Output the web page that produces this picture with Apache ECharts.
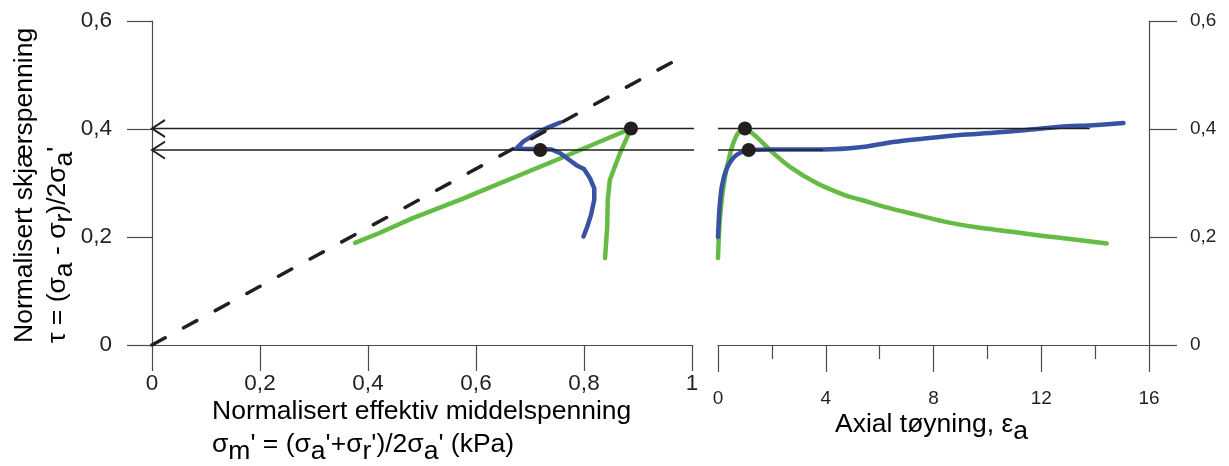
<!DOCTYPE html>
<html>
<head>
<meta charset="utf-8">
<script src="https://cdn.jsdelivr.net/npm/echarts@6/dist/echarts.min.js"></script>
<style>
  html, body { margin: 0; padding: 0; background: #ffffff; }
  #chart { width: 1229px; height: 466px; }
</style>
</head>
<body>
<div id="chart"></div>
<script>
// Undrained triaxial test: stress paths (left) and stress–strain curves (right)

// Axis ranges / tick steps
const stressRange = [0, 1];      // normalised mean effective stress
const stressStep = 0.2;
const tauRange = [0, 0.6];       // normalised shear stress
const tauStep = 0.2;
const strainRange = [0, 16];     // axial strain
const strainStep = 4;

// Stress paths [σm', τ]
const bluePath = [
  [0.799, 0.201], [0.806, 0.219], [0.813, 0.241], [0.819, 0.269], [0.819, 0.290],
  [0.811, 0.309], [0.800, 0.326], [0.786, 0.333], [0.771, 0.344], [0.756, 0.355],
  [0.740, 0.362], [0.719, 0.363], [0.694, 0.363], [0.675, 0.364], [0.688, 0.377],
  [0.712, 0.392], [0.734, 0.403], [0.756, 0.412]
];
const greenPath = [
  [0.839, 0.161], [0.843, 0.219], [0.844, 0.269], [0.848, 0.306], [0.857, 0.330],
  [0.867, 0.356], [0.880, 0.385], [0.887, 0.401], [0.750, 0.343], [0.607, 0.284],
  [0.576, 0.271], [0.483, 0.235], [0.420, 0.207], [0.376, 0.189]
];

// Failure envelope [σm', τ]
const failureLine = [[0, 0], [0.975, 0.530]];

// Stress–strain curves [εa, τ]
const blueStrain = [
  [0, 0.200], [0.05, 0.250], [0.14, 0.293], [0.30, 0.324], [0.51, 0.343],
  [0.75, 0.354], [1.14, 0.361], [2.05, 0.362], [3.90, 0.362], [5.27, 0.366],
  [6.50, 0.376], [7.75, 0.383], [8.98, 0.389], [10.2, 0.393], [11.46, 0.398],
  [12.7, 0.404], [13.93, 0.407], [15.05, 0.411]
];
const greenStrain = [
  [0, 0.161], [0.05, 0.219], [0.14, 0.269], [0.26, 0.311], [0.42, 0.348],
  [0.57, 0.374], [0.75, 0.393], [1.00, 0.401], [1.44, 0.385], [1.93, 0.361],
  [2.67, 0.330], [3.66, 0.300], [4.78, 0.276], [5.30, 0.269], [6.26, 0.255],
  [7.13, 0.244], [8.36, 0.229], [9.60, 0.218], [10.84, 0.210], [12.07, 0.202],
  [13.3, 0.195], [14.43, 0.188]
];

// Peak / plateau markers: green peak and blue plateau
const markTau = [0.401, 0.361];
const markStress = [0.887, 0.719];
const markStrain = [1.00, 1.14];
// Reference levels carried back to the τ axis, ending at these strains
const guideEndStrain = [13.8, 3.9];
// Left part of the guide runs just past σm' = 1 to bridge the gap between panels
const guideBridge = 1.05;

const INK = '#231f20';
const AXIS = '#4a4a4a';
const GREEN = '#66bb44';
const BLUE = '#3953a4';
const FONT = '"Liberation Sans", Arial, sans-serif';

const comma = v => String(+(+v).toFixed(2)).replace('.', ',');

const chevron = 'path://M13,0 L0,8.5 L13,17';

function guideSeries(tau, end) {
  return [
    {
      type: 'line', xAxisIndex: 0, yAxisIndex: 0, clip: false, silent: true, z: 4,
      lineStyle: { color: INK, width: 1.6 },
      itemStyle: { color: 'none', borderColor: INK, borderWidth: 1.8 },
      data: [
        { value: [stressRange[0], tau], symbol: chevron, symbolSize: [13, 17], symbolOffset: ['50%', 0] },
        { value: [guideBridge, tau], symbol: 'none' }
      ]
    },
    {
      type: 'line', xAxisIndex: 1, yAxisIndex: 1, clip: false, silent: true, z: 4,
      symbol: 'none',
      lineStyle: { color: INK, width: 1.6 },
      data: [[strainRange[0], tau], [end, tau]]
    }
  ];
}

const curve = (color, data, xi, smooth) => ({
  type: 'line', xAxisIndex: xi, yAxisIndex: xi, data, symbol: 'none', smooth,
  silent: true, z: 2,
  lineStyle: { color, width: 4.5, cap: 'round', join: 'round' }
});

const tickLabel = (size) => ({ fontFamily: FONT, fontSize: size, color: INK });

const rich = {
  n: { fontFamily: FONT, fontSize: 26.5, color: INK },
  s: { fontFamily: FONT, fontSize: 26.5, color: INK, padding: [13, 0, 0, 0] }
};

const chart = echarts.init(document.getElementById('chart'), null, { renderer: 'canvas' });

chart.setOption({
  animation: false,
  backgroundColor: '#ffffff',
  grid: [
    { left: 152, top: 21, width: 540, height: 324 },
    { left: 718, top: 21, width: 431, height: 324 }
  ],
  xAxis: [
    {
      gridIndex: 0, type: 'value', min: stressRange[0], max: stressRange[1], interval: stressStep,
      axisLine: { show: true, onZero: false, lineStyle: { color: AXIS, width: 1.2 } },
      axisTick: { show: true, length: 26, lineStyle: { color: AXIS, width: 1.2 } },
      splitLine: { show: false },
      axisLabel: Object.assign({ margin: 27, formatter: comma }, tickLabel(22.5))
    },
    {
      gridIndex: 1, type: 'value', min: strainRange[0], max: strainRange[1], interval: strainStep,
      axisLine: { show: true, onZero: false, lineStyle: { color: AXIS, width: 1.2 } },
      axisTick: { show: true, length: 27, lineStyle: { color: AXIS, width: 1.2 } },
      minorTick: { show: true, splitNumber: 2, length: 14, lineStyle: { color: AXIS, width: 1.2 } },
      splitLine: { show: false },
      axisLabel: Object.assign({ margin: 44 }, tickLabel(19))
    }
  ],
  yAxis: [
    {
      gridIndex: 0, type: 'value', min: tauRange[0], max: tauRange[1], interval: tauStep,
      axisLine: { show: true, onZero: false, lineStyle: { color: AXIS, width: 1.2 } },
      axisTick: { show: true, length: 25, lineStyle: { color: AXIS, width: 1.2 } },
      splitLine: { show: false },
      axisLabel: Object.assign({ margin: 40, formatter: comma }, tickLabel(22.5))
    },
    {
      gridIndex: 1, type: 'value', position: 'right', min: tauRange[0], max: tauRange[1], interval: tauStep,
      axisLine: { show: true, onZero: false, lineStyle: { color: AXIS, width: 1.2 } },
      axisTick: { show: true, length: 28, lineStyle: { color: AXIS, width: 1.2 } },
      splitLine: { show: false },
      axisLabel: Object.assign({ margin: 41, formatter: comma }, tickLabel(19))
    }
  ],
  series: [
    curve(GREEN, greenPath, 0, false),
    curve(BLUE, bluePath, 0, false),
    curve(GREEN, greenStrain, 1, 0.2),
    curve(BLUE, blueStrain, 1, 0.2),
    {
      type: 'line', xAxisIndex: 0, yAxisIndex: 0, data: failureLine, symbol: 'none',
      silent: true, z: 3,
      lineStyle: { color: INK, width: 3.5, type: [15, 21], cap: 'round' }
    },
    ...guideSeries(markTau[0], guideEndStrain[0]),
    ...guideSeries(markTau[1], guideEndStrain[1]),
    {
      type: 'scatter', xAxisIndex: 0, yAxisIndex: 0, symbolSize: 14, silent: true, z: 6,
      itemStyle: { color: INK, opacity: 1 },
      data: markStress.map((x, i) => [x, markTau[i]])
    },
    {
      type: 'scatter', xAxisIndex: 1, yAxisIndex: 1, symbolSize: 14, silent: true, z: 6,
      itemStyle: { color: INK, opacity: 1 },
      data: markStrain.map((x, i) => [x, markTau[i]])
    }
  ],
  graphic: [
    {
      type: 'text', x: 25, y: 343, rotation: Math.PI / 2, silent: true,
      style: { text: '{n|Normalisert skjærspenning}', rich, align: 'left', verticalAlign: 'middle' }
    },
    {
      type: 'text', x: 58, y: 343, rotation: Math.PI / 2, silent: true,
      style: { text: "{n|τ = (σ}{s|a}{n| - σ}{s|r}{n|)/2σ}{s|a}{n|'}", rich, align: 'left', verticalAlign: 'middle' }
    },
    {
      type: 'text', x: 212, y: 412, silent: true,
      style: { text: '{n|Normalisert effektiv middelspenning}', rich, align: 'left', verticalAlign: 'middle' }
    },
    {
      type: 'text', x: 212, y: 445, silent: true,
      style: { text: "{n|σ}{s|m}{n|' = (σ}{s|a}{n|'+σ}{s|r}{n|')/2σ}{s|a}{n|' (kPa)}", rich, align: 'left', verticalAlign: 'middle' }
    },
    {
      type: 'text', x: 835, y: 425, silent: true,
      style: { text: '{n|Axial tøyning, ε}{s|a}', rich, align: 'left', verticalAlign: 'middle' }
    }
  ]
});
</script>
</body>
</html>
